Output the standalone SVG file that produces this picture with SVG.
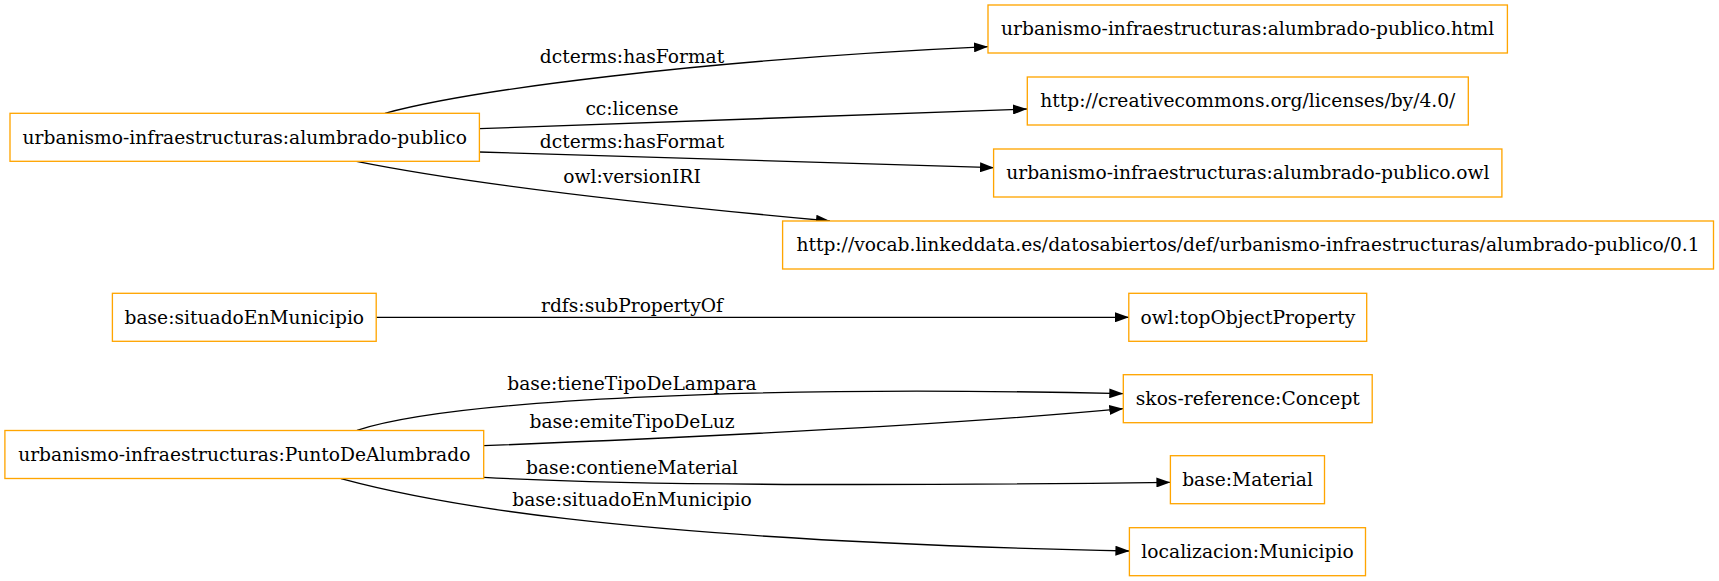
<svg xmlns="http://www.w3.org/2000/svg" width="1719" height="581" viewBox="0 0 1719 581">
<style>
.node rect{fill:#ffffff;stroke:#ffa500;stroke-width:1.33}
text{font-family:"DejaVu Serif","Liberation Serif",serif;font-size:18.67px;fill:#000;text-anchor:middle}
.edge path{fill:none;stroke:#000;stroke-width:1.33}
</style>
<defs>
<marker id="arr" markerUnits="userSpaceOnUse" markerWidth="14" markerHeight="10" viewBox="0 0 14 10" refX="14" refY="5" orient="auto">
<path d="M0,0 L14,5 L0,10 Z" fill="#000"/>
</marker>
</defs>
<rect width="1719" height="581" fill="#fff"/>
<g id="connectors" class="edge">
<path d="M385,113.3 C470,90 700,60 988,46.7" marker-end="url(#arr)"/>
<text x="632" y="63.3">dcterms:hasFormat</text>
<path d="M479.4,128.7 L1027,109" marker-end="url(#arr)"/>
<text x="632" y="115">cc:license</text>
<path d="M479.4,152 L994,167.7" marker-end="url(#arr)"/>
<text x="632" y="148">dcterms:hasFormat</text>
<path d="M356.5,161.3 C450,180 600,200 830,221" marker-end="url(#arr)"/>
<text x="632" y="183">owl:versionIRI</text>
<path d="M376,317.3 L1129,317.3" marker-end="url(#arr)"/>
<text x="632" y="312">rdfs:subPropertyOf</text>
<path d="M357,430.3 C450,400 750,385 1123.3,393.7" marker-end="url(#arr)"/>
<text x="632" y="390">base:tieneTipoDeLampara</text>
<path d="M483.7,445.7 C700,437 950,425 1123.3,408.7" marker-end="url(#arr)"/>
<text x="632" y="428">base:emiteTipoDeLuz</text>
<path d="M483.7,477.3 C600,484 800,487 1170.4,482.3" marker-end="url(#arr)"/>
<text x="632" y="473.5">base:contieneMaterial</text>
<path d="M341,478.7 C420,500 600,540 1129.4,551" marker-end="url(#arr)"/>
<text x="632" y="506">base:situadoEnMunicipio</text>
</g>
<g id="n_alumbrado" class="node"><rect x="10" y="113.3" width="469.4" height="48"/><text x="244.7" y="143.5">urbanismo-infraestructuras:alumbrado-publico</text></g>
<g id="n_html" class="node"><rect x="988" y="5" width="519.4" height="48"/><text x="1247.7" y="35.2">urbanismo-infraestructuras:alumbrado-publico.html</text></g>
<g id="n_cc" class="node"><rect x="1027.3" y="77" width="441" height="48"/><text x="1247.8" y="107.2">http://creativecommons.org/licenses/by/4.0/</text></g>
<g id="n_owl" class="node"><rect x="993.6" y="149" width="508.3" height="48"/><text x="1247.8" y="179.2">urbanismo-infraestructuras:alumbrado-publico.owl</text></g>
<g id="n_vocab" class="node"><rect x="782.6" y="221" width="930.9" height="48"/><text x="1248" y="251.2">http://vocab.linkeddata.es/datosabiertos/def/urbanismo-infraestructuras/alumbrado-publico/0.1</text></g>
<g id="n_situado" class="node"><rect x="112.4" y="293.3" width="263.8" height="48"/><text x="244.3" y="323.5">base:situadoEnMunicipio</text></g>
<g id="n_punto" class="node"><rect x="4.9" y="430.5" width="478.8" height="48"/><text x="244.3" y="460.7">urbanismo-infraestructuras:PuntoDeAlumbrado</text></g>
<g id="n_top" class="node"><rect x="1128.8" y="293.3" width="237.9" height="48"/><text x="1247.8" y="323.5">owl:topObjectProperty</text></g>
<g id="n_skos" class="node"><rect x="1123.3" y="374.7" width="248.9" height="48"/><text x="1247.8" y="404.9">skos-reference:Concept</text></g>
<g id="n_material" class="node"><rect x="1170.4" y="455.7" width="154.1" height="48"/><text x="1247.5" y="485.9">base:Material</text></g>
<g id="n_municipio" class="node"><rect x="1129.4" y="527.7" width="236.1" height="48"/><text x="1247.5" y="557.9">localizacion:Municipio</text></g>
</svg>
